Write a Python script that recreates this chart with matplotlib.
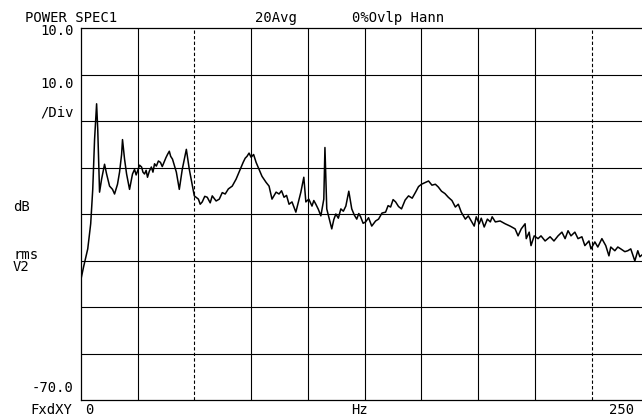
import numpy as np
import matplotlib.pyplot as plt

# frequency axis (Hz) and power level (dB rms V2)
freq_hz = [0.0, 1.3, 3.1, 4.4, 5.3, 6.1, 7.0, 7.5, 8.3, 9.2, 10.5, 11.4, 12.7, 14.0,
           14.9, 16.2, 17.1, 18.0, 18.4, 19.3, 20.2, 21.5, 22.8, 23.7, 24.4, 25.0,
           25.9, 26.8, 27.4, 28.1, 28.8, 29.4, 30.2, 31.1, 31.8, 32.5, 33.3, 34.2,
           35.1, 35.9, 36.8, 37.5, 38.2, 39.0, 39.6, 40.4, 42.1, 43.4, 44.7, 46.5,
           47.8, 50.0, 51.8, 52.6, 53.5, 54.6, 55.7, 57.0, 57.9, 59.6, 61.0, 62.3,
           63.6, 65.0, 66.7, 68.4, 69.7, 71.5, 72.4, 73.2, 74.1, 75.0, 76.1, 77.2,
           78.5, 79.8, 81.6, 82.9, 84.2, 86.0, 87.3, 88.4, 89.5, 90.6, 91.7, 93.0,
           94.7, 96.1, 96.9, 98.2, 99.1, 100.4, 101.8, 102.6, 103.5, 104.6, 105.7,
           107.0, 107.5, 108.3, 110.5, 111.4, 112.3, 113.4, 114.5, 115.6, 116.7,
           118.0, 119.3, 120.4, 121.5, 122.4, 123.2, 124.3, 125.4, 126.7, 128.1,
           129.8, 131.1, 132.6, 134.2, 135.3, 136.4, 137.5, 138.6, 139.9, 141.2,
           142.8, 144.3, 145.9, 147.4, 148.7, 150.0, 151.8, 153.1, 154.6, 156.1,
           157.4, 158.8, 160.3, 161.8, 163.4, 164.9, 166.2, 167.5, 169.3, 170.6,
           171.9, 173.2, 174.1, 175.4, 176.3, 177.6, 179.0, 180.3, 181.1, 182.5,
           184.6, 186.8, 189.0, 191.2, 192.5, 193.9, 195.6, 196.1, 197.4, 198.2,
           199.6, 201.3, 202.6, 204.4, 206.6, 208.3, 210.1, 211.8, 213.2, 214.5,
           215.8, 217.5, 218.9, 220.6, 221.9, 223.7, 224.6, 226.3, 227.6, 229.4,
           231.1, 232.5, 233.3, 235.1, 236.4, 237.7, 239.5, 240.8, 242.1, 243.9,
           245.2, 246.1, 248.0, 250.0]
power_db = [-44.3, -41.3, -37.5, -32.1, -24.7, -14.0, -6.3, -11.8, -25.3, -22.5,
            -19.3, -21.4, -24.0, -24.7, -25.7, -23.6, -21.0, -17.2, -14.0, -18.2,
            -21.4, -24.7, -21.4, -20.4, -21.6, -20.8, -19.5, -19.9, -21.0, -21.4,
            -20.6, -22.1, -20.8, -19.9, -21.0, -19.2, -19.7, -18.6, -18.9, -19.8,
            -18.7, -17.9, -17.2, -16.5, -17.6, -18.2, -21.0, -24.7, -20.4, -16.1,
            -20.4, -26.1, -26.8, -27.9, -27.4, -26.2, -26.4, -27.6, -26.1, -27.2,
            -26.8, -25.4, -25.7, -24.6, -24.0, -22.5, -21.0, -18.9, -18.0, -17.6,
            -16.9, -17.8, -17.2, -18.9, -20.4, -21.9, -23.2, -24.0, -26.8, -25.3,
            -25.7, -25.0, -26.4, -26.0, -27.9, -27.4, -29.6, -26.8, -25.3, -22.1,
            -27.4, -26.8, -28.3, -27.1, -27.9, -29.0, -30.4, -26.8, -15.7, -28.9,
            -33.2, -31.2, -30.0, -30.9, -28.9, -29.4, -28.3, -25.1, -28.9, -30.2,
            -31.1, -29.9, -30.6, -32.0, -31.7, -30.8, -32.6, -31.5, -31.1, -29.8,
            -29.6, -28.2, -28.5, -26.9, -27.4, -28.4, -28.9, -27.0, -26.1, -26.6,
            -25.3, -24.1, -23.6, -23.2, -22.9, -23.8, -23.6, -24.2, -25.1, -25.6,
            -26.4, -27.1, -28.5, -27.9, -29.6, -31.1, -30.4, -31.5, -32.6, -30.6,
            -32.1, -30.9, -32.8, -31.1, -31.7, -30.6, -31.7, -31.5, -32.1, -32.6,
            -33.2, -34.7, -33.2, -32.1, -35.3, -33.9, -36.8, -34.7, -35.3, -34.7,
            -35.8, -34.9, -35.8, -34.7, -33.9, -35.3, -33.6, -34.7, -33.9, -35.3,
            -34.9, -36.8, -35.8, -37.5, -36.0, -37.1, -35.3, -36.8, -39.0, -37.1,
            -37.9, -37.1, -37.5, -38.1, -37.9, -37.5, -40.1, -37.9, -39.2, -38.4,
            -38.8]

x_ticks = np.arange(0, 251, 25)
y_ticks = np.arange(-70, 11, 10)

mono = 'DejaVu Sans Mono'
fs = 10

fig = plt.figure(figsize=(6.42, 4.17), dpi=100)
fig.patch.set_facecolor('white')

# plot box runs past the right edge, like the scanned page
ax = fig.add_axes([80.7 / 642, 1 - 400 / 417, 568 / 642, 372 / 417])
ax.set_xlim(0, 250)
ax.set_ylim(-70, 10)
ax.set_xticks(x_ticks)
ax.set_yticks(y_ticks)
ax.tick_params(length=0, labelbottom=False, labelleft=False)
for sp in ax.spines.values():
    sp.set_color('black')
    sp.set_linewidth(0.9)

# grid lines (the 50 Hz and 225 Hz ones come out dotted on the plotter)
for xv in x_ticks[1:]:
    ls = (0, (3, 2)) if xv in (50, 225) else '-'
    ax.axvline(xv, color='black', lw=0.8, ls=ls, zorder=1)
for yv in y_ticks[1:-1]:
    ax.axhline(yv, color='black', lw=0.8, zorder=1)

ax.plot(freq_hz, power_db, color='black', lw=1.1, zorder=2)

# header and axis annotations
def ftxt(px, py, s, ha='left', **kw):
    fig.text(px / 642, 1 - py / 417, s, ha=ha, va='center',
             family=mono, fontsize=fs, color='black', **kw)

ftxt(25, 18, 'POWER SPEC1')
ftxt(255, 18, '20Avg')
ftxt(352, 18, '0%Ovlp Hann')
ftxt(74, 31, '10.0', ha='right')
ftxt(74, 84, '10.0', ha='right')
ftxt(74, 112, '/Div', ha='right')
ftxt(13, 207, 'dB')
ftxt(13, 261, 'rms\nV2', linespacing=0.85)
ftxt(74, 388, '-70.0', ha='right')
ftxt(72, 410, 'FxdXY', ha='right')
ftxt(85, 410, '0')
ftxt(360, 410, 'Hz', ha='center')
ftxt(609, 410, '250')

fig.savefig('out.png', dpi=100)
